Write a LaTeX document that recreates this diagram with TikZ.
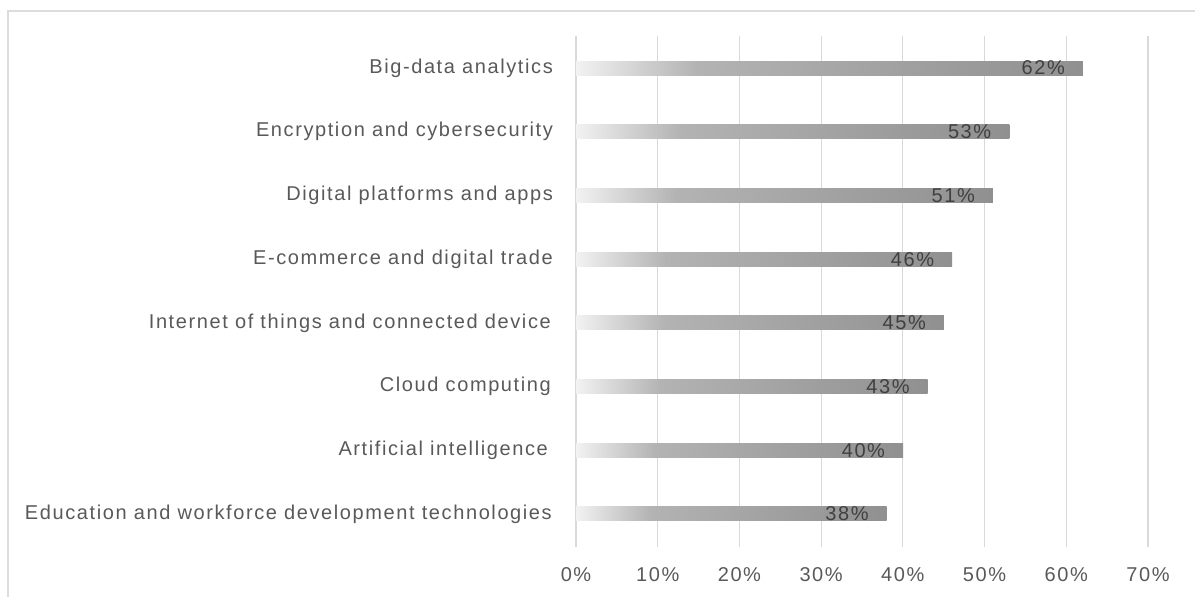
\documentclass[tikz,border=0pt]{standalone}
\usepackage{fontspec}
\setmainfont{Liberation Sans}[LetterSpace=8]
\definecolor{gridc}{HTML}{D9D9D9}
\definecolor{framec}{HTML}{DCDCDC}
\definecolor{labc}{HTML}{595959}
\definecolor{valc}{HTML}{404040}
\definecolor{barA}{HTML}{F2F2F2}
\definecolor{barB}{HTML}{B3B3B3}
\definecolor{barC}{HTML}{909090}
\pgfdeclarehorizontalshading{barshade}{100bp}{color(0bp)=(barA); color(25bp)=(barA); color(37bp)=(barB); color(75bp)=(barC); color(100bp)=(barC)}
\tikzset{
  catlabel/.style={anchor=east, inner sep=0pt, text=labc, font=\fontsize{20}{22}\selectfont},
  ticklabel/.style={anchor=center, inner sep=0pt, text=labc, font=\fontsize{20}{22}\selectfont},
  vallabel/.style={anchor=east, inner sep=0pt, text=valc, font=\fontsize{20}{22}\selectfont},
  barnode/.style={shade, shading=barshade, draw=none, anchor=west, inner sep=0pt, minimum height=14pt},
  gridline/.style={draw=gridc, line width=1.2pt},
  frameline/.style={draw=framec, line width=1.6pt}
}
\begin{document}
\begin{tikzpicture}[x=1pt,y=-1pt]
\useasboundingbox (0,0) rectangle (1195,597);
% frame
\coordinate (fr1) at (8,597);
\coordinate (fr2) at (8,10.7);
\coordinate (fr3) at (1195,10.7);
\draw[frameline] (fr1) -- (fr2) -- (fr3);
% gridlines and ticks
\foreach \k in {0,...,7}{
  \coordinate (gt\k) at (576+\k*81.71,36);
  \coordinate (gb\k) at (576+\k*81.71,547);
  \draw[gridline] (gt\k) -- (gb\k);
  \pgfmathtruncatemacro{\pc}{\k*10}
  \node[ticklabel] (tick\k) at (576+\k*81.71,575) {\pc\%};
}
% bars
\foreach \lab/\val/\i/\dx in {
  Big-data analytics/62/0/0,
  Encryption and cybersecurity/53/1/0,
  Digital platforms and apps/51/2/0,
  E-commerce and digital trade/46/3/0,
  Internet of things and connected device/45/4/2,
  Cloud computing/43/5/2,
  Artificial intelligence/40/6/5,
  Education and workforce development technologies/38/7/1}{
  \pgfmathsetmacro{\yy}{68+\i*63.71}
  \pgfmathsetmacro{\ww}{\val*8.171}
  \node[catlabel] (lab\i) at (553-\dx,\yy) {\lab};
  \node[barnode, minimum width=\ww pt] (bar\i) at (576,\yy) {};
  \node[vallabel] (val\i) at ([xshift=-18pt]bar\i.east) {\val\%};
}
\end{tikzpicture}
\end{document}
